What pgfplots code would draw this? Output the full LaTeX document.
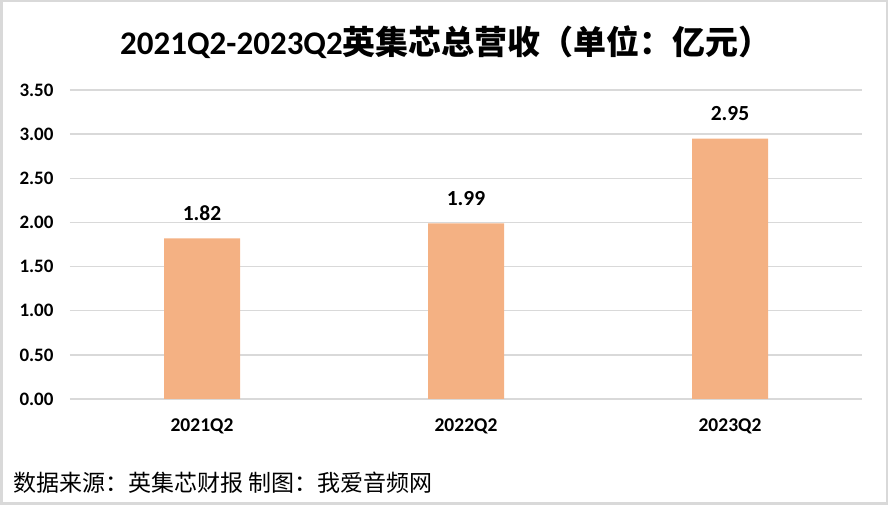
\documentclass[border=0pt]{standalone}
\usepackage{fontspec}
\setmainfont{Carlito}
\newfontfamily\cjk{Noto Sans CJK SC}
\usepackage{pgfplots}
\pgfplotsset{compat=1.18}
\definecolor{barc}{HTML}{F4B183}
\definecolor{gridc}{HTML}{D9D9D9}
\begin{document}
\begin{tikzpicture}[x=1pt,y=1pt]
\useasboundingbox (0,0) rectangle (888,505);
\draw[gridc,line width=2.5pt] (1.25,1.25) rectangle (886.75,503.75);
\node[anchor=center] at (446,463) {\fontsize{33}{36}\selectfont\bfseries 2021Q2-2023Q2{\cjk\bfseries 英集芯总营收（单位：亿元）}};
\node[anchor=west] at (10,22) {\fontsize{23}{26}\selectfont\cjk 数据来源：英集芯财报\ 制图：我爱音频网};
\begin{axis}[
  at={(70pt,106pt)}, anchor=south west,
  scale only axis, width=792pt, height=309pt,
  xmin=-0.5, xmax=2.5, ymin=0, ymax=3.5,
  xtick={0,1,2}, xticklabels={2021Q2,2022Q2,2023Q2},
  ytick={0,0.5,...,3.5},
  ymajorgrids, grid style={gridc, line width=1.5pt},
  axis line style={draw=none},
  major tick length=0pt,
  /pgf/number format/assume math mode=true,
  yticklabel style={xshift=-13pt,/pgf/number format/.cd,fixed,fixed zerofill,precision=2},
  ticklabel style={font=\fontsize{19}{20}\selectfont\bfseries},
  xticklabel style={font=\fontsize{19.5}{21}\selectfont\bfseries, yshift=-16pt},
  ybar, bar width=76pt,
  nodes near coords,
  nodes near coords style={font=\fontsize{21.5}{23}\selectfont\bfseries, yshift=14pt, /pgf/number format/.cd,fixed,fixed zerofill,precision=2},
  clip=false,
]
\addplot[fill=barc, draw=none] coordinates {(0,1.82) (1,1.99) (2,2.95)};
\end{axis}
\end{tikzpicture}
\end{document}
